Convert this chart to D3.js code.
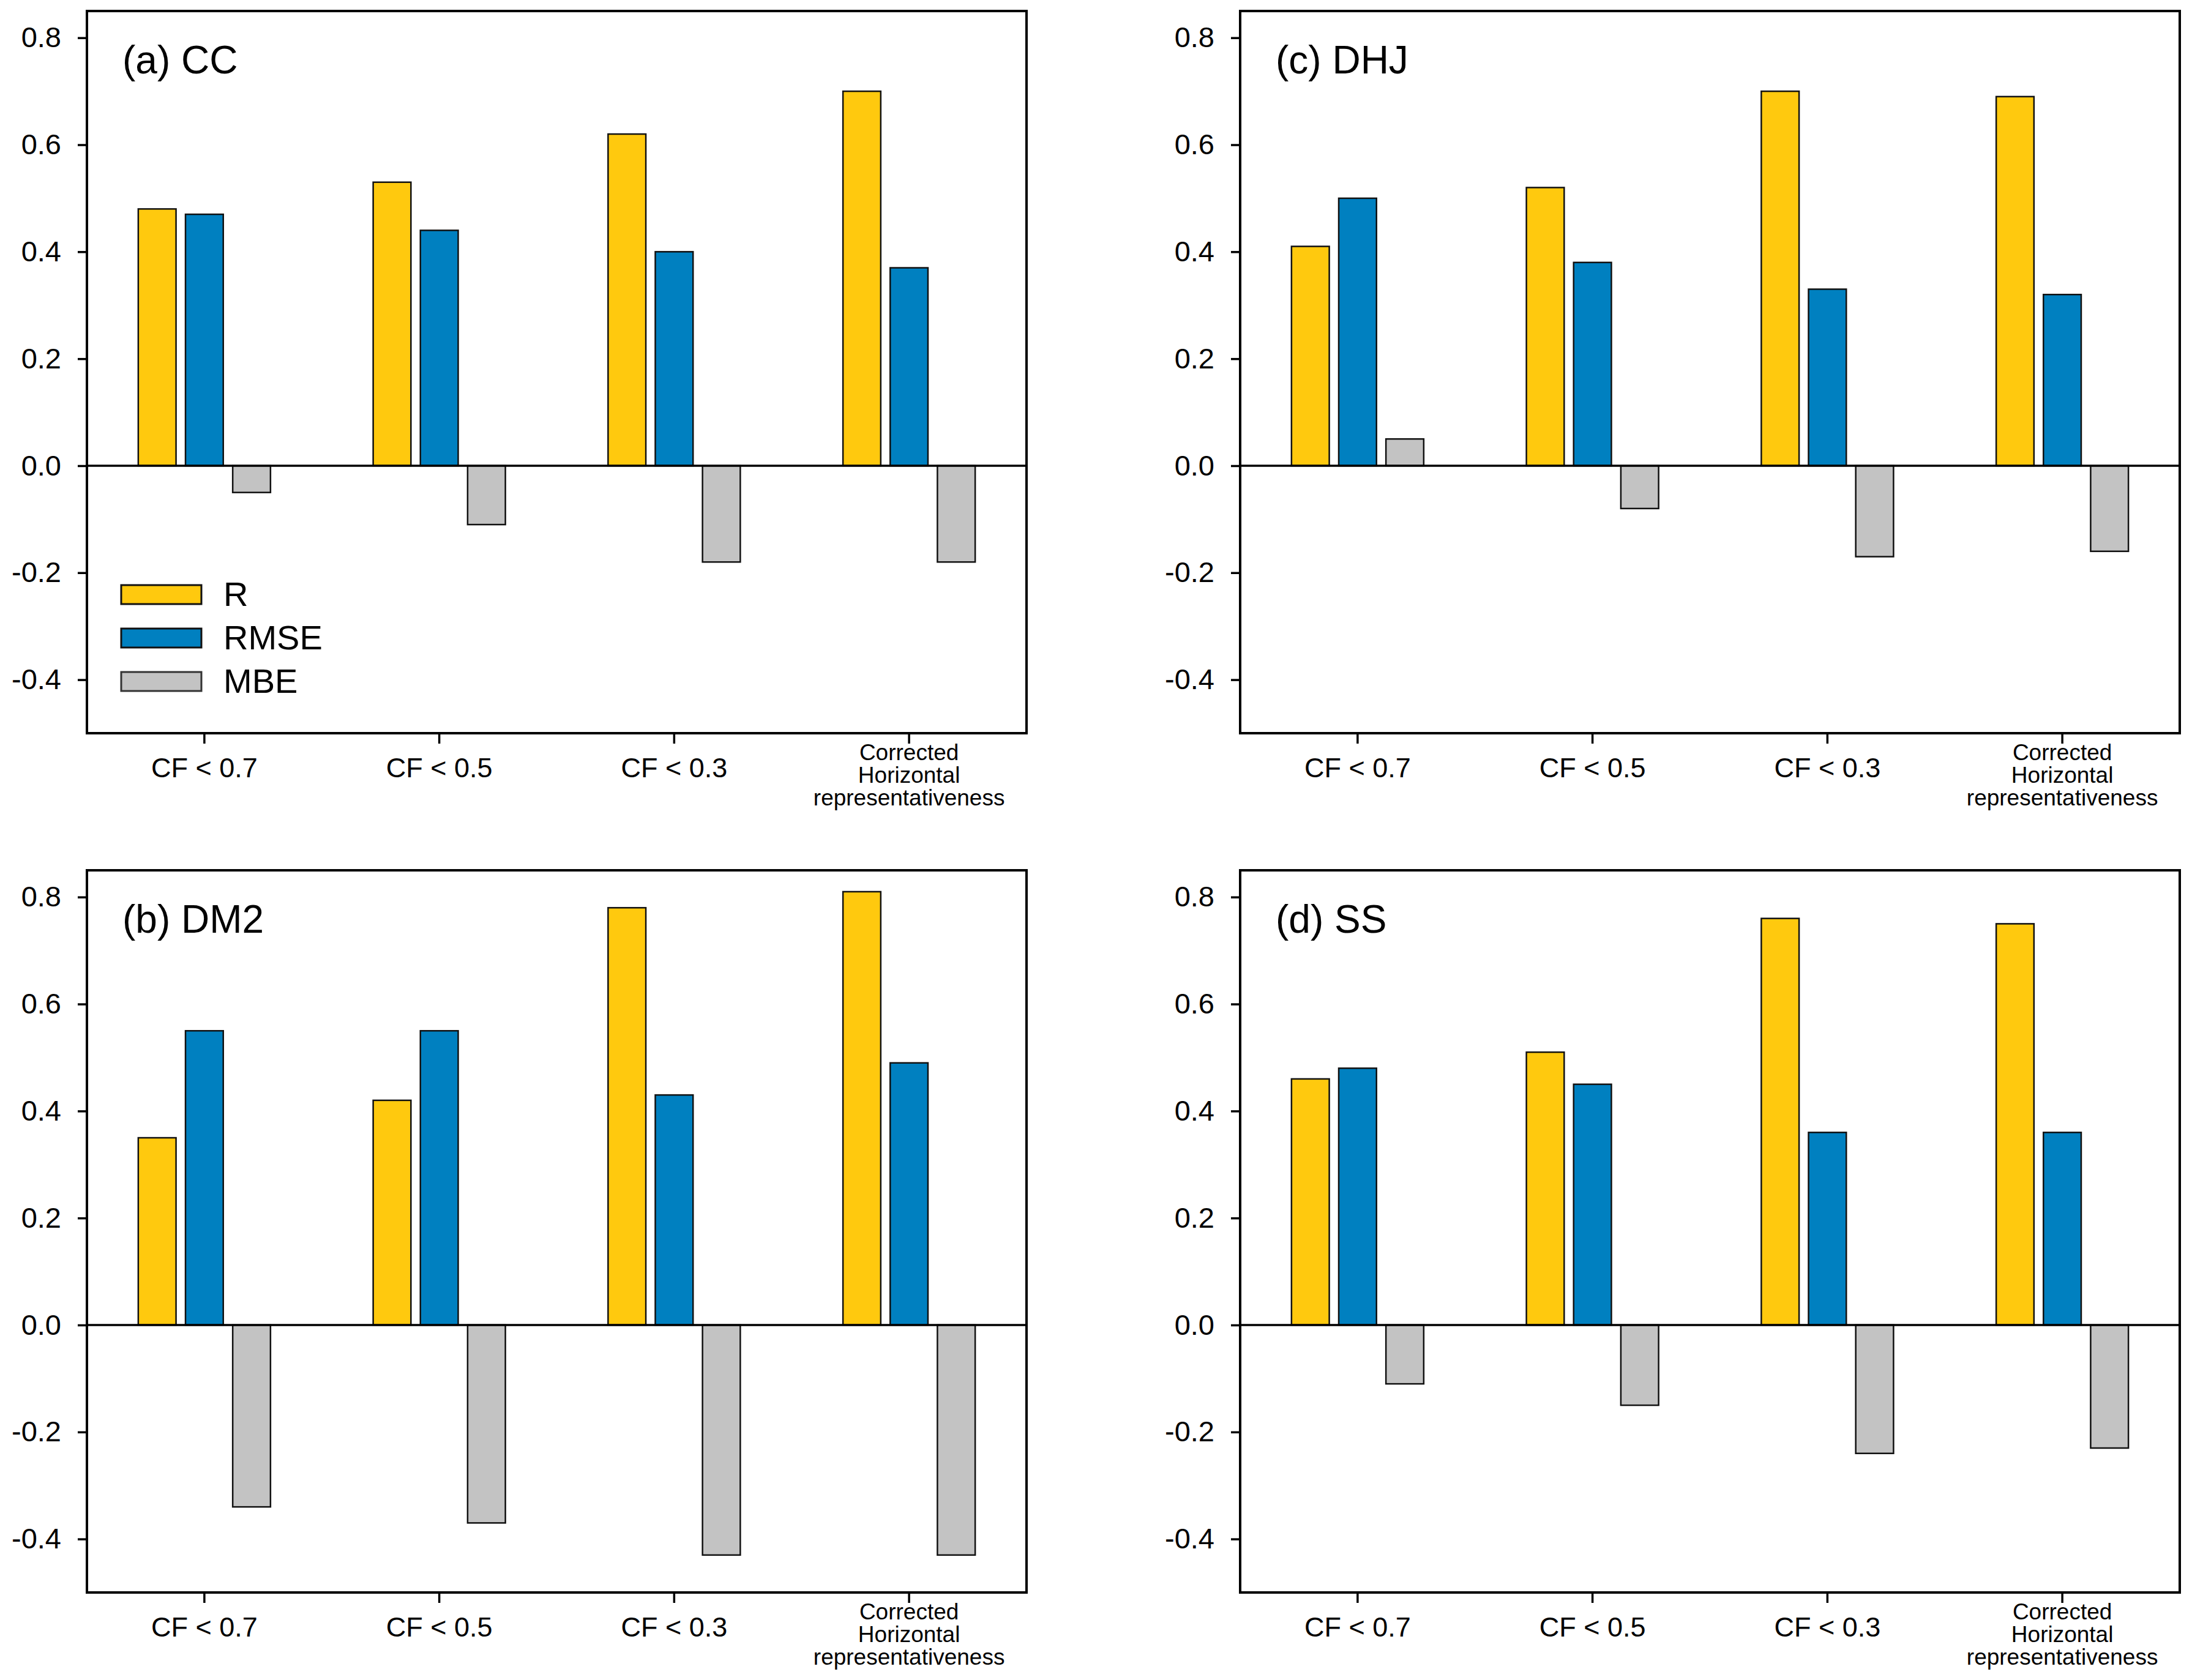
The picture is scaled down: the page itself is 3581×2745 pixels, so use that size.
<!DOCTYPE html>
<html>
<head>
<meta charset="utf-8">
<script src="https://cdn.jsdelivr.net/npm/d3@7"></script>
<style>
  body { margin: 0; background: #fff; }
  text { font-family: "Liberation Sans", Arial, sans-serif; fill: #000; }
</style>
</head>
<body>
<div id="chart"></div>
<script>
// categories and series
var categories = ["CF < 0.7", "CF < 0.5", "CF < 0.3", "Corrected Horizontal representativeness"];
var seriesNames = ["R", "RMSE", "MBE"];
var yTicks = [-0.4, -0.2, 0.0, 0.2, 0.4, 0.6, 0.8];

// values
var ccR = [0.48, 0.53, 0.62, 0.70];
var ccRMSE = [0.47, 0.44, 0.40, 0.37];
var ccMBE = [-0.05, -0.11, -0.18, -0.18];

var dhjR = [0.41, 0.52, 0.70, 0.69];
var dhjRMSE = [0.50, 0.38, 0.33, 0.32];
var dhjMBE = [0.05, -0.08, -0.17, -0.16];

var dm2R = [0.35, 0.42, 0.78, 0.81];
var dm2RMSE = [0.55, 0.55, 0.43, 0.49];
var dm2MBE = [-0.34, -0.37, -0.43, -0.43];

var ssR = [0.46, 0.51, 0.76, 0.75];
var ssRMSE = [0.48, 0.45, 0.36, 0.36];
var ssMBE = [-0.11, -0.15, -0.24, -0.23];

var colors = {R: "#FFC90E", RMSE: "#0080C0", MBE: "#C3C3C3"};

var width = 3581, height = 2745;
var colX = [142, 2026], rowY = [18, 1422];
var pw = 1535, ph = 1180;

var panels = [
  {title: "(a) CC",  R: ccR,  RMSE: ccRMSE,  MBE: ccMBE,  col: 0, row: 0, legend: true},
  {title: "(c) DHJ", R: dhjR, RMSE: dhjRMSE, MBE: dhjMBE, col: 1, row: 0},
  {title: "(b) DM2", R: dm2R, RMSE: dm2RMSE, MBE: dm2MBE, col: 0, row: 1},
  {title: "(d) SS",  R: ssR,  RMSE: ssRMSE,  MBE: ssMBE,  col: 1, row: 1}
];

var svg = d3.select("#chart")
  .append("svg")
    .attr("width", width)
    .attr("height", height)
    .style("background", "#fff");

panels.forEach(function(p) {
  var g = svg.append("g")
    .attr("transform", "translate(" + colX[p.col] + "," + rowY[p.row] + ")");

  var y = d3.scaleLinear().domain([-0.5, 0.85]).range([ph, 0]);
  var x0 = d3.scaleBand().domain(categories).range([0, pw]);
  var half = 108;
  var x1 = d3.scaleBand().domain(seriesNames)
    .range([x0.bandwidth() / 2 - half, x0.bandwidth() / 2 + half])
    .paddingInner(0.2);

  // bars
  var rows = [];
  categories.forEach(function(c, i) {
    seriesNames.forEach(function(s) {
      rows.push({cat: c, key: s, value: p[s][i]});
    });
  });

  g.append("g")
    .selectAll("rect")
    .data(rows)
    .enter()
    .append("rect")
      .attr("x", function(d) { return x0(d.cat) + x1(d.key); })
      .attr("y", function(d) { return y(Math.max(0, d.value)); })
      .attr("width", x1.bandwidth())
      .attr("height", function(d) { return Math.abs(y(d.value) - y(0)); })
      .attr("fill", function(d) { return colors[d.key]; })
      .attr("stroke", "#111")
      .attr("stroke-width", 2.5);

  // zero line
  g.append("line")
    .attr("x1", 0).attr("x2", pw)
    .attr("y1", y(0)).attr("y2", y(0))
    .attr("stroke", "#000")
    .attr("stroke-width", 3.5);

  // y axis
  var yAxis = g.append("g")
    .call(d3.axisLeft(y).tickValues(yTicks).tickSize(15).tickPadding(27)
      .tickFormat(function(d) { return d.toFixed(1); }));
  yAxis.select(".domain").remove();
  yAxis.selectAll(".tick line").attr("stroke-width", 3.5);
  yAxis.selectAll(".tick text")
    .style("font-size", "47px")
    .style("font-family", "'Liberation Sans', Arial, sans-serif");

  // x axis
  var xAxis = g.append("g")
    .attr("transform", "translate(0," + ph + ")")
    .call(d3.axisBottom(x0).tickSize(17).tickFormat(""));
  xAxis.select(".domain").remove();
  xAxis.selectAll(".tick line").attr("stroke-width", 3.5);

  categories.forEach(function(c) {
    var cx = x0(c) + x0.bandwidth() / 2;
    if (c.indexOf("Corrected") === 0) {
      var t = g.append("text")
        .attr("text-anchor", "middle")
        .style("font-size", "37px");
      ["Corrected", "Horizontal", "representativeness"].forEach(function(line, k) {
        t.append("tspan").attr("x", cx).attr("y", ph + 44 + k * 37).text(line);
      });
    } else {
      g.append("text")
        .attr("x", cx)
        .attr("y", ph + 72)
        .attr("text-anchor", "middle")
        .style("font-size", "45px")
        .text(c);
    }
  });

  // frame
  g.append("rect")
    .attr("x", 0).attr("y", 0)
    .attr("width", pw).attr("height", ph)
    .attr("fill", "none")
    .attr("stroke", "#000")
    .attr("stroke-width", 4);

  // panel title
  g.append("text")
    .attr("x", 58)
    .attr("y", 102)
    .style("font-size", "64px")
    .text(p.title);

  // legend
  if (p.legend) {
    var lg = g.append("g").attr("transform", "translate(56,938)");
    seriesNames.forEach(function(s, k) {
      lg.append("rect")
        .attr("x", 0).attr("y", k * 71)
        .attr("width", 131).attr("height", 31)
        .attr("fill", colors[s])
        .attr("stroke", s === "MBE" ? "#333" : "#111")
        .attr("stroke-width", 3);
      lg.append("text")
        .attr("x", 167).attr("y", k * 71 + 34)
        .style("font-size", "56px")
        .text(s);
    });
  }
});
</script>
</body>
</html>
